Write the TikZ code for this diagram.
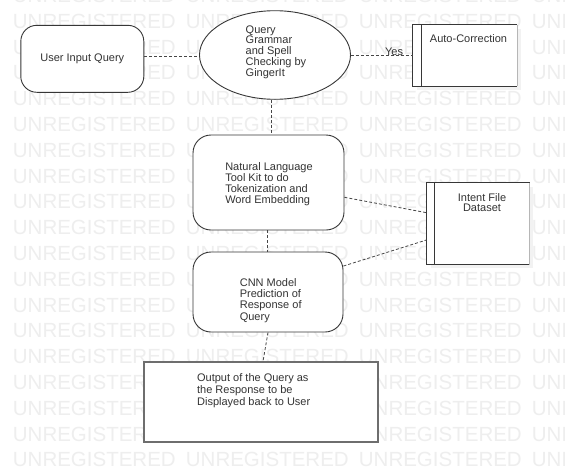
\documentclass[tikz,border=0pt]{standalone}
\usepackage{fontspec}
\setmainfont{Liberation Sans}
\usetikzlibrary{shapes.geometric}
\definecolor{txt}{RGB}{51,51,51}
\definecolor{bord}{RGB}{55,55,55}
\definecolor{bord2}{RGB}{110,110,110}
\definecolor{lnk}{RGB}{70,70,70}
\definecolor{wmc}{RGB}{238,238,238}
\definecolor{shad}{RGB}{242,242,242}
\begin{document}
\begin{tikzpicture}[x=1pt,y=-1pt,
  every node/.style={font=\fontsize{11}{11}\selectfont, text=txt},
  rbox/.style={draw=bord, fill=white, rounded corners=18pt, line width=0.9pt},
  sqbox/.style={draw=bord2, fill=white, line width=1.1pt},
  procbox/.style={fill=white, inner sep=0pt},
  procline/.style={draw=bord, line width=0.9pt},
  link/.style={draw=lnk, line width=0.8pt, dash pattern=on 3pt off 2pt},
  wm/.style={font=\fontsize{20.5}{20.5}\selectfont, text=wmc, anchor=base west, inner sep=0pt},
  txtblk/.style={align=left, inner sep=0pt}]
\useasboundingbox (0,0) rectangle (565,466);
\fill[white] (0,0) rectangle (565,466);
% watermark
\begin{scope}
\clip (0,0) rectangle (565,466);
\foreach \k in {-1,...,17}
  \foreach \c in {0,...,3}
    \node[wm] (wm-\k-\c) at (12.7+173*\c, 28.3+25.8*\k) {UNREGISTERED};
\end{scope}

% User input
\node[rbox, rounded corners=16pt, minimum width=123pt, minimum height=67pt] (user) at (82.3,58.8) {User Input Query};

% Ellipse
\node[draw=bord, fill=white, ellipse, line width=0.9pt, minimum width=151pt, minimum height=88.6pt] (qg) at (275,55) {};
\node[txtblk, font=\fontsize{11}{10.8}\selectfont] (qgT) at (276,52) {Query\\Grammar\\and Spell\\Checking by\\GingerIt};

% Auto-Correction (process with side bar)
\fill[shad] (416.7,29) rectangle (520.7,90);
\node[procbox, minimum width=104pt, minimum height=61pt] (ac) at (464.7,55.5) {};
\draw[procline] (ac.north east) -- (ac.north west) -- (ac.south west) -- (ac.south east);
\draw[draw=bord2!50, line width=0.6pt] (ac.north east) -- (ac.south east);
\draw[procline] ([xshift=9pt]ac.north west) -- ([xshift=9pt]ac.south west);
\node (acT) at (468.5,38.3) {Auto-Correction};

% NLTK
\node[rbox, minimum width=151pt, minimum height=95pt, txtblk] (nltk) at (268.5,182.5) {};
\node[txtblk] (nltkT) at (269,183.8) {Natural Language\\Tool Kit to do\\Tokenization and\\Word Embedding};

% Intent File Dataset
\fill[shad] (430.7,186.7) rectangle (533.3,268.3);
\node[procbox, minimum width=102.6pt, minimum height=81.6pt] (intent) at (478,223.5) {};
\draw[procline] (intent.north east) -- (intent.north west) -- (intent.south west) -- (intent.south east);
\draw[draw=bord2!50, line width=0.6pt] (intent.north east) -- (intent.south east);
\draw[procline] ([xshift=8.3pt]intent.north west) -- ([xshift=8.3pt]intent.south west);
\node[align=center, inner sep=0pt, font=\fontsize{11}{10.6}\selectfont] (intentT) at (482,202.5) {Intent File\\Dataset};

% CNN
\node[rbox, minimum width=150pt, minimum height=80pt] (cnn) at (268,292) {};
\node[txtblk, font=\fontsize{11}{11.2}\selectfont] (cnnT) at (270.7,300.5) {CNN Model\\Prediction of\\Response of\\Query};

% Output
\node[sqbox, minimum width=234pt, minimum height=80pt] (out) at (261,402) {};
\node[txtblk, font=\fontsize{11}{12}\selectfont] (outT) at (253.7,390.5) {Output of the Query as\\the Response to be\\Displayed back to User};

% connectors
\draw[link] ([yshift=2.1pt]user.east) -- ([yshift=2.1pt]user.east -| qg.west);
\draw[link] (qg.east) -- (qg.east -| ac.west)
  node[pos=0.7, yshift=3.6pt, inner sep=0pt] (yes) {Yes};
\draw[link] ([xshift=-3.3pt]qg.south) -- ([xshift=-3.3pt]qg.south |- nltk.north);
\draw[link] ([xshift=-1pt]nltk.south) -- ([xshift=-1pt]nltk.south |- cnn.north);
\draw[link] ([yshift=-14.8pt]nltk.east) -- ([yshift=10.8pt]intent.west);
\draw[link] ([yshift=26pt]cnn.east) -- ([yshift=-16.5pt]intent.west);
\draw[link] (cnn.south) -- ([xshift=2pt]out.north);
\end{tikzpicture}
\end{document}
